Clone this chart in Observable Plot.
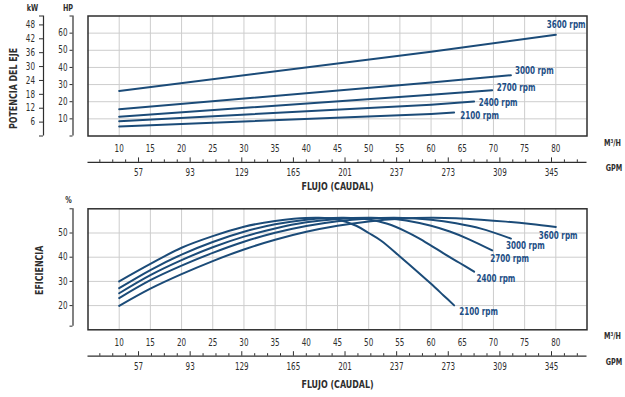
<!DOCTYPE html>
<html><head><meta charset="utf-8">
<script src="https://cdn.jsdelivr.net/npm/d3@7"></script>
<script src="https://cdn.jsdelivr.net/npm/@observablehq/plot@0.6"></script>
<style>
body{margin:0;background:#fff;}
#chart{width:625px;height:397px;overflow:hidden;}
#chart svg{display:block;overflow:visible;}
</style></head><body><div id="chart"></div>
<script>
// ---------- data ----------
const rpms = ["3600 rpm", "3000 rpm", "2700 rpm", "2400 rpm", "2100 rpm"];

// Shaft power (HP) vs flow (m³/h)
const powerFlow = [
  [10, 60, 80],
  [10, 60, 72.8],
  [10, 60, 69.8],
  [10, 60, 66.9],
  [10, 60, 63.7]
];
const powerHP = [
  [26.3, 49.2, 59.0],
  [15.6, 31.2, 35.5],
  [11.3, 24.0, 26.7],
  [8.6, 18.3, 20.1],
  [5.5, 12.9, 13.7]
];

// Efficiency (%) vs flow (m³/h)
const effFlow = [
  [10, 15, 20, 25, 30, 35, 40, 45, 50, 55, 60, 64, 68, 72, 76, 80],
  [10, 15, 20, 25, 30, 35, 40, 45, 50, 54, 57, 60, 64, 68, 72.8],
  [10, 15, 20, 25, 30, 35, 40, 45, 50, 53, 56, 60, 63, 66, 69.8],
  [10, 15, 20, 25, 30, 35, 40, 46, 50, 53, 56, 58, 60, 62, 64.6, 66.9],
  [10, 15, 20, 25, 30, 35, 38, 42, 45, 48, 50, 52, 55, 58, 60, 62, 63.7]
];
const effPct = [
  [19.9, 27.0, 33.0, 38.4, 43.2, 47.2, 50.5, 53.0, 54.8, 55.9, 56.3, 56.1, 55.5, 54.7, 53.7, 52.5],
  [23.1, 30.5, 36.5, 41.8, 46.4, 50.1, 52.9, 54.9, 56.0, 56.3, 56.1, 55.5, 54.0, 51.8, 47.7],
  [25.1, 32.6, 38.8, 44.1, 48.5, 51.9, 54.4, 55.8, 56.3, 56.1, 55.2, 53.0, 50.6, 47.5, 42.8],
  [27.2, 34.7, 41.1, 46.3, 50.5, 53.6, 55.5, 56.3, 55.6, 53.8, 50.6, 47.9, 44.8, 41.6, 37.6, 34.0],
  [30.0, 37.2, 43.9, 48.7, 52.6, 55.0, 55.9, 56.3, 55.6, 53.0, 50.0, 46.8, 40.3, 33.6, 29.0, 24.2, 20.1]
];

// axes
const flowTicks = [10, 15, 20, 25, 30, 35, 40, 45, 50, 55, 60, 65, 70, 75, 80];
const gpmLabels = [57, 93, 129, 165, 201, 237, 273, 309, 345];
const gpmMinor = [30, 39, 48, 66, 75, 84, 102, 111, 120, 138, 147, 156, 174, 183, 192,
  210, 219, 228, 246, 255, 264, 282, 291, 300, 318, 327, 336, 354, 363];
const hpTicks = [10, 20, 30, 40, 50, 60];
const kwTicks = [6, 12, 18, 24, 30, 36, 42, 48];
const pctTicks = [20, 30, 40, 50];

const GPM_PER_M3H = 4.35;   // spacing used on the chart's GPM scale
const HP_PER_KW = 1.35;

// ---------- style ----------
const BLUE = "#1b4b78";
const LABEL_BLUE = "#1d4f86";
const GRID = "#cdcdcd";
const INK = "#2e2e2e";
const FONT = "'Liberation Sans Narrow', 'DejaVu Sans Condensed', 'Arial Narrow', 'Roboto Condensed', sans-serif";
const CONDENSE = 0.8;

const powerRows = rpms.flatMap((r, i) => powerFlow[i].map((f, j) => ({rpm: r, flow: f, v: powerHP[i][j]})));
const effRows = rpms.flatMap((r, i) => effFlow[i].map((f, j) => ({rpm: r, flow: f, v: effPct[i][j]})));
const lastOf = (rows, r) => rows.filter(d => d.rpm === r).at(-1);

const topLabelOffsets = [[-9, -10], [4, -4.5], [4.5, -2.7], [4.7, 1], [6, 3.3]];
const botLabelOffsets = [[-17, 9], [-5, 7.5], [-2, 8.3], [2.5, 6.7], [5, 6.7]];

const common = {
  width: 625,
  marginLeft: 87.5,
  marginRight: 38.5,
  x: {domain: [5, 85], axis: null},
  style: {fontFamily: FONT, fontSize: "10px", color: INK, background: "transparent"}
};

function flowAxes(lineOffset, flujoOffset, yMin) {
  return [
    Plot.text(flowTicks, {x: d => d, frameAnchor: "bottom", lineAnchor: "top", dy: 9.3, text: d => String(d), fill: INK, fontSize: 10}),
    Plot.ruleY([yMin], {x1: 5, x2: 85, dy: lineOffset, stroke: INK, strokeWidth: 1.2}),
    Plot.axisX({ticks: gpmMinor.map(g => g / GPM_PER_M3H), anchor: "bottom", tickSize: 2.5, dy: lineOffset - 2.5, tickFormat: () => "", stroke: INK, label: null}),
    Plot.axisX({ticks: gpmLabels.map(g => g / GPM_PER_M3H), anchor: "bottom", tickSize: 4.5, dy: lineOffset - 4.5, tickPadding: 6.3,
      tickFormat: d => String(Math.round(d * GPM_PER_M3H)), stroke: INK, fill: INK, fontSize: 10, label: null}),
    Plot.text(["M³/H"], {frameAnchor: "bottom-right", dx: 25.5, dy: 9.5, textAnchor: "middle", fontWeight: "bold", fontSize: 9, fill: INK}),
    Plot.text(["GPM"], {frameAnchor: "bottom-right", dx: 27, dy: 35, textAnchor: "middle", fontWeight: "bold", fontSize: 9, fill: INK}),
    Plot.text(["FLUJO (CAUDAL)"], {frameAnchor: "bottom", dy: flujoOffset, textAnchor: "middle", fontWeight: "bold", fontSize: 11, fill: INK})
  ];
}

// ---------- top chart: power ----------
const powerChart = Plot.plot({
  ...common,
  height: 192,
  marginTop: 15.5,
  marginBottom: 56.5,
  y: {domain: [0, 70], axis: null},
  marks: [
    Plot.gridX(flowTicks, {stroke: GRID, strokeOpacity: 1}),
    Plot.gridY(hpTicks, {stroke: GRID, strokeOpacity: 1}),
    Plot.frame({stroke: INK, strokeWidth: 1.5}),
    Plot.line(powerRows, {x: "flow", y: "v", z: "rpm", stroke: BLUE, strokeWidth: 2}),
    ...rpms.map((r, i) => Plot.text([lastOf(powerRows, r)], {x: "flow", y: "v", text: "rpm", textAnchor: "start",
      dx: topLabelOffsets[i][0], dy: topLabelOffsets[i][1], fill: LABEL_BLUE, fontWeight: "bold", fontSize: 10})),
    Plot.ruleX([5], {y1: 0, y2: 70, dx: -15, stroke: INK, strokeWidth: 1.2}),
    Plot.axisY({ticks: [0, ...hpTicks, 70], anchor: "left", tickSize: 3, tickPadding: 2.5, dx: -15,
      tickFormat: d => hpTicks.includes(d) ? String(d) : "", stroke: INK, fill: INK, fontSize: 10, label: null}),
    Plot.ruleX([5], {y1: 0, y2: 70, dx: -44.5, stroke: INK, strokeWidth: 1.2}),
    Plot.axisY({ticks: [0, ...kwTicks.map(k => k * HP_PER_KW), 70], anchor: "left", tickSize: 4, tickPadding: 4.5, dx: -44.5,
      tickFormat: d => (d === 0 || d === 70) ? "" : String(Math.round(d / HP_PER_KW)), stroke: INK, fill: INK, fontSize: 10, label: null}),
    Plot.text(["kW"], {frameAnchor: "top-left", dx: -55.5, dy: -11.5, textAnchor: "middle", fontWeight: "bold", fontSize: 9, fill: INK}),
    Plot.text(["HP"], {frameAnchor: "top-left", dx: -20, dy: -11.5, textAnchor: "middle", fontWeight: "bold", fontSize: 9, fill: INK}),
    Plot.text(["POTENCIA DEL EJE"], {frameAnchor: "left", dx: -74.5, dy: 12.5, rotate: -90, textAnchor: "middle", fontWeight: "bold", fontSize: 11, fill: INK}),
    ...flowAxes(26.4, 54, 0)
  ]
});

// ---------- bottom chart: efficiency ----------
const efficiencyChart = Plot.plot({
  ...common,
  height: 205,
  marginTop: 16.3,
  marginBottom: 67.7,
  y: {domain: [10, 60], axis: null},
  marks: [
    Plot.gridX(flowTicks, {stroke: GRID, strokeOpacity: 1}),
    Plot.gridY(pctTicks, {stroke: GRID, strokeOpacity: 1}),
    Plot.frame({stroke: INK, strokeWidth: 1.5}),
    Plot.line(effRows, {x: "flow", y: "v", z: "rpm", stroke: BLUE, strokeWidth: 2, curve: "catmull-rom"}),
    ...rpms.map((r, i) => Plot.text([lastOf(effRows, r)], {x: "flow", y: "v", text: "rpm", textAnchor: "start",
      dx: botLabelOffsets[i][0], dy: botLabelOffsets[i][1], fill: LABEL_BLUE, fontWeight: "bold", fontSize: 10})),
    Plot.ruleX([5], {y1: 11.5, y2: 60, dx: -15, stroke: INK, strokeWidth: 1.2}),
    Plot.axisY({ticks: [11.5, ...pctTicks, 60], anchor: "left", tickSize: 3, tickPadding: 2.5, dx: -15,
      tickFormat: d => pctTicks.includes(d) ? String(d) : "", stroke: INK, fill: INK, fontSize: 10, label: null}),
    Plot.text(["%"], {frameAnchor: "top-left", dx: -19.5, dy: -12.5, textAnchor: "middle", fontWeight: "bold", fontSize: 9, fill: INK}),
    Plot.text(["EFICIENCIA"], {frameAnchor: "left", dx: -48.5, dy: 1, rotate: -90, textAnchor: "middle", fontWeight: "bold", fontSize: 11, fill: INK}),
    ...flowAxes(26.4, 57.7, 10)
  ]
});

const chart = document.getElementById("chart");
chart.appendChild(powerChart);
chart.appendChild(efficiencyChart);

// condensed look (the reference uses a condensed typeface)
d3.selectAll("#chart text").each(function() {
  const targets = this.querySelector("tspan") ? Array.from(this.querySelectorAll("tspan")) : [this];
  for (const el of targets) {
    const len = el.getComputedTextLength();
    if (len > 0) { el.setAttribute("textLength", len * CONDENSE); el.setAttribute("lengthAdjust", "spacingAndGlyphs"); }
  }
});
</script>
</body></html>
